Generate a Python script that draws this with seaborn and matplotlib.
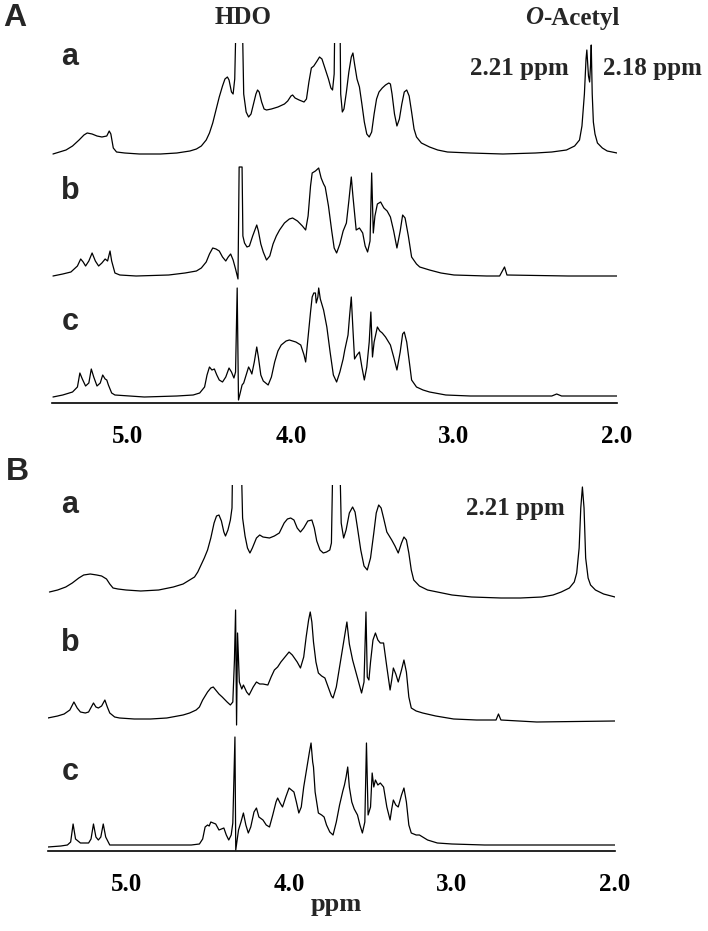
import matplotlib.pyplot as plt
import numpy as np
import pandas as pd
import seaborn as sns

# (ppm, intensity above the trace baseline)
a_sample_a = [(5.46, 0), (5.42, 2), (5.38, 4), (5.34, 8), (5.30, 14), (5.27, 19), (5.25, 21), (5.22, 20),
              (5.19, 18), (5.16, 17), (5.13, 18), (5.115, 23), (5.105, 20), (5.09, 6), (5.07, 2), (5.02, 1),
              (4.93, 0), (4.80, 0), (4.70, 1), (4.62, 3), (4.58, 5), (4.55, 8), (4.52, 14), (4.50, 21),
              (4.48, 31), (4.46, 44), (4.44, 57), (4.42, 68), (4.405, 75), (4.39, 77), (4.38, 74),
              (4.365, 62), (4.355, 60), (4.345, 75), (4.335, 150), (4.30, 150), (4.29, 60), (4.275, 42),
              (4.26, 37), (4.245, 40), (4.23, 50), (4.215, 60), (4.205, 64), (4.195, 62), (4.18, 52),
              (4.165, 45), (4.15, 44), (4.12, 45), (4.08, 47), (4.04, 50), (4.02, 53), (4.00, 58),
              (3.99, 59), (3.975, 56), (3.95, 54), (3.92, 52), (3.905, 55), (3.89, 72), (3.875, 86),
              (3.86, 88), (3.84, 93), (3.825, 97), (3.81, 95), (3.79, 85), (3.77, 75), (3.755, 66),
              (3.745, 64), (3.735, 80), (3.73, 150), (3.70, 150), (3.695, 60), (3.685, 42), (3.675, 45),
              (3.66, 62), (3.645, 82), (3.63, 97), (3.62, 101), (3.61, 90), (3.595, 75), (3.58, 67),
              (3.565, 50), (3.55, 32), (3.535, 20), (3.52, 17), (3.505, 22), (3.49, 40), (3.475, 55),
              (3.46, 62), (3.44, 66), (3.42, 69), (3.40, 71), (3.39, 70), (3.38, 60), (3.365, 40),
              (3.35, 28), (3.335, 35), (3.32, 50), (3.305, 62), (3.29, 64), (3.275, 58), (3.26, 42),
              (3.245, 25), (3.23, 17), (3.20, 11), (3.15, 7), (3.10, 4), (3.04, 2), (2.90, 1), (2.70, 0),
              (2.50, 1), (2.40, 2), (2.31, 4), (2.26, 8), (2.23, 14), (2.215, 28), (2.20, 60),
              (2.19, 95), (2.185, 104), (2.175, 78), (2.168, 72), (2.162, 90), (2.158, 109), (2.152, 60),
              (2.145, 32), (2.135, 20), (2.12, 11), (2.09, 6), (2.06, 3), (2.00, 1)]
a_sample_b = [(5.46, 0), (5.40, 2), (5.35, 4), (5.31, 10), (5.29, 17), (5.275, 14), (5.26, 10), (5.24, 15),
              (5.22, 23), (5.20, 15), (5.18, 10), (5.16, 13), (5.14, 17), (5.125, 15), (5.11, 25),
              (5.10, 15), (5.08, 3), (5.05, 1), (4.95, 0), (4.75, 1), (4.65, 3), (4.58, 5), (4.55, 8),
              (4.52, 14), (4.50, 22), (4.48, 28), (4.46, 27), (4.44, 25), (4.42, 19), (4.40, 15),
              (4.385, 19), (4.37, 22), (4.355, 16), (4.34, 7), (4.325, -3), (4.318, 109), (4.30, 109),
              (4.295, 40), (4.285, 33), (4.27, 29), (4.255, 30), (4.235, 40), (4.21, 51), (4.20, 45),
              (4.185, 32), (4.17, 24), (4.15, 16), (4.13, 20), (4.11, 32), (4.09, 40), (4.07, 46),
              (4.04, 53), (4.01, 57), (3.99, 58), (3.96, 55), (3.93, 50), (3.91, 46), (3.895, 60),
              (3.88, 90), (3.87, 103), (3.85, 105), (3.83, 108), (3.815, 98), (3.80, 92), (3.79, 89),
              (3.77, 70), (3.75, 45), (3.735, 28), (3.72, 23), (3.70, 32), (3.68, 45), (3.66, 53),
              (3.645, 75), (3.63, 99), (3.62, 80), (3.60, 46), (3.58, 48), (3.56, 43), (3.545, 30),
              (3.53, 24), (3.515, 35), (3.505, 103), (3.495, 43), (3.485, 60), (3.47, 72), (3.45, 74),
              (3.43, 68), (3.41, 65), (3.39, 59), (3.37, 45), (3.35, 28), (3.33, 45), (3.315, 61),
              (3.30, 58), (3.28, 40), (3.26, 19), (3.23, 12), (3.21, 9), (3.15, 6), (3.08, 3), (3.00, 1),
              (2.80, 0), (2.72, 0), (2.69, 9), (2.675, 1), (2.30, 0), (2.00, 0)]
a_sample_c = [(5.46, 0), (5.40, 2), (5.34, 5), (5.31, 10), (5.295, 24), (5.28, 18), (5.26, 11), (5.24, 14),
              (5.225, 28), (5.21, 20), (5.19, 11), (5.17, 14), (5.155, 22), (5.14, 18), (5.13, 17),
              (5.12, 12), (5.10, 4), (5.08, 2), (4.90, 0), (4.70, 1), (4.60, 2), (4.56, 4), (4.53, 10),
              (4.515, 22), (4.50, 30), (4.485, 27), (4.47, 28), (4.455, 22), (4.44, 17), (4.42, 15),
              (4.40, 20), (4.38, 29), (4.365, 25), (4.35, 19), (4.34, 25), (4.33, 109), (4.322, -3),
              (4.31, 5), (4.30, 12), (4.29, 14), (4.275, 22), (4.26, 30), (4.25, 27), (4.24, 23),
              (4.225, 35), (4.21, 50), (4.20, 40), (4.185, 22), (4.17, 16), (4.14, 12), (4.12, 20),
              (4.10, 35), (4.08, 46), (4.06, 52), (4.03, 56), (4.01, 57), (3.97, 55), (3.94, 52),
              (3.92, 42), (3.91, 35), (3.895, 60), (3.88, 85), (3.87, 100), (3.86, 104), (3.85, 104),
              (3.845, 94), (3.835, 100), (3.83, 109), (3.82, 98), (3.80, 87), (3.78, 70), (3.76, 45),
              (3.74, 22), (3.72, 15), (3.70, 25), (3.68, 38), (3.67, 47), (3.65, 62), (3.64, 82),
              (3.63, 100), (3.62, 68), (3.61, 38), (3.595, 42), (3.58, 45), (3.565, 30), (3.55, 17),
              (3.535, 30), (3.52, 55), (3.51, 85), (3.50, 40), (3.49, 55), (3.47, 70), (3.455, 66),
              (3.44, 64), (3.42, 60), (3.39, 52), (3.37, 40), (3.35, 27), (3.33, 45), (3.315, 63),
              (3.305, 65), (3.29, 55), (3.27, 30), (3.26, 17), (3.23, 10), (3.19, 7), (3.15, 5),
              (3.05, 2), (2.90, 1), (2.40, 1), (2.37, 3), (2.34, 1), (2.00, 1)]

b_sample_a = [(5.47, 6), (5.42, 8), (5.37, 11), (5.33, 15), (5.29, 20), (5.26, 23), (5.22, 24), (5.18, 23),
              (5.15, 22), (5.12, 19), (5.10, 14), (5.08, 10), (5.05, 9), (5.00, 8), (4.91, 7), (4.80, 8),
              (4.71, 11), (4.65, 14), (4.61, 18), (4.58, 21), (4.56, 26), (4.54, 33), (4.52, 40),
              (4.50, 48), (4.48, 60), (4.46, 75), (4.445, 82), (4.43, 83), (4.415, 77), (4.40, 66),
              (4.39, 62), (4.375, 68), (4.36, 78), (4.35, 90), (4.345, 150), (4.295, 150), (4.285, 80),
              (4.27, 62), (4.255, 50), (4.24, 45), (4.225, 50), (4.20, 60), (4.18, 63), (4.16, 61),
              (4.12, 60), (4.09, 62), (4.06, 65), (4.03, 75), (4.01, 79), (3.99, 80), (3.97, 78),
              (3.95, 70), (3.93, 66), (3.91, 70), (3.885, 77), (3.86, 78), (3.845, 70), (3.83, 57),
              (3.81, 48), (3.79, 45), (3.77, 46), (3.75, 48), (3.74, 55), (3.73, 150), (3.69, 150),
              (3.68, 75), (3.665, 60), (3.65, 68), (3.63, 85), (3.61, 91), (3.595, 86), (3.58, 70),
              (3.56, 48), (3.54, 32), (3.52, 28), (3.50, 40), (3.48, 65), (3.465, 85), (3.45, 93),
              (3.435, 90), (3.42, 80), (3.40, 66), (3.385, 62), (3.37, 58), (3.35, 52), (3.33, 45),
              (3.31, 55), (3.295, 61), (3.28, 58), (3.265, 45), (3.25, 28), (3.235, 18), (3.20, 12),
              (3.15, 8), (3.09, 6), (3.00, 3), (2.88, 1), (2.70, 0), (2.58, 0), (2.45, 1), (2.38, 3),
              (2.33, 6), (2.28, 10), (2.25, 16), (2.235, 25), (2.22, 50), (2.21, 90), (2.20, 111),
              (2.19, 90), (2.18, 40), (2.165, 20), (2.15, 13), (2.12, 8), (2.07, 4), (2.00, 1)]
b_sample_b = [(5.48, 4), (5.42, 6), (5.38, 8), (5.345, 12), (5.32, 20), (5.30, 14), (5.28, 10), (5.25, 9),
              (5.23, 10), (5.21, 16), (5.20, 19), (5.185, 15), (5.17, 14), (5.15, 16), (5.13, 22),
              (5.115, 15), (5.10, 9), (5.07, 5), (5.04, 4), (4.95, 3), (4.85, 3), (4.75, 4), (4.65, 7),
              (4.61, 9), (4.57, 12), (4.55, 15), (4.53, 22), (4.50, 30), (4.48, 34), (4.465, 35),
              (4.45, 32), (4.43, 28), (4.41, 25), (4.38, 20), (4.36, 17), (4.345, 20), (4.335, 62),
              (4.328, 112), (4.322, -3), (4.316, 89), (4.305, 40), (4.29, 33), (4.28, 37), (4.26, 30),
              (4.245, 27), (4.22, 35), (4.20, 40), (4.18, 38), (4.16, 38), (4.13, 37), (4.11, 45),
              (4.09, 52), (4.07, 55), (4.05, 60), (4.02, 66), (4.00, 70), (3.98, 67), (3.95, 60),
              (3.93, 54), (3.91, 65), (3.895, 85), (3.88, 102), (3.87, 110), (3.86, 100), (3.85, 80),
              (3.835, 60), (3.82, 49), (3.80, 46), (3.78, 44), (3.76, 35), (3.74, 26), (3.73, 24),
              (3.71, 35), (3.69, 55), (3.67, 75), (3.66, 85), (3.645, 100), (3.63, 78), (3.61, 62),
              (3.59, 50), (3.57, 38), (3.555, 29), (3.54, 40), (3.528, 110), (3.52, 45), (3.51, 42),
              (3.50, 60), (3.485, 82), (3.47, 89), (3.455, 82), (3.44, 79), (3.42, 79), (3.40, 55),
              (3.38, 32), (3.37, 42), (3.36, 54), (3.345, 48), (3.33, 40), (3.31, 52), (3.295, 62),
              (3.28, 50), (3.265, 25), (3.25, 14), (3.22, 11), (3.18, 9), (3.10, 6), (2.99, 3),
              (2.85, 2), (2.73, 2), (2.715, 8), (2.70, 2), (2.48, 0), (2.00, 1)]
b_sample_c = [(5.48, 0), (5.40, 1), (5.36, 2), (5.34, 5), (5.325, 23), (5.31, 8), (5.28, 4), (5.23, 4),
              (5.215, 8), (5.20, 23), (5.185, 10), (5.17, 7), (5.155, 10), (5.14, 23), (5.125, 10),
              (5.10, 2), (4.80, 2), (4.60, 2), (4.55, 3), (4.53, 8), (4.515, 20), (4.50, 22), (4.49, 21),
              (4.48, 25), (4.465, 24), (4.45, 23), (4.43, 17), (4.415, 18), (4.40, 19), (4.385, 12),
              (4.37, 7), (4.355, 12), (4.345, 24), (4.338, 70), (4.332, 110), (4.327, -3), (4.31, 17),
              (4.295, 25), (4.28, 34), (4.265, 22), (4.25, 14), (4.235, 20), (4.215, 35), (4.20, 39),
              (4.185, 30), (4.16, 27), (4.14, 22), (4.12, 20), (4.10, 32), (4.08, 45), (4.07, 49),
              (4.055, 44), (4.04, 40), (4.02, 50), (4.00, 59), (3.985, 57), (3.97, 55), (3.955, 45),
              (3.94, 34), (3.925, 40), (3.91, 60), (3.89, 80), (3.875, 95), (3.865, 104), (3.855, 85),
              (3.85, 80), (3.84, 55), (3.82, 34), (3.80, 32), (3.785, 30), (3.77, 22), (3.75, 15),
              (3.73, 12), (3.71, 25), (3.69, 42), (3.67, 56), (3.66, 62), (3.65, 70), (3.64, 80),
              (3.63, 60), (3.615, 45), (3.60, 38), (3.58, 32), (3.565, 22), (3.55, 14), (3.535, 25),
              (3.525, 104), (3.515, 32), (3.50, 40), (3.49, 74), (3.48, 60), (3.47, 67), (3.455, 62),
              (3.44, 64), (3.42, 60), (3.40, 40), (3.38, 27), (3.37, 38), (3.36, 47), (3.345, 42),
              (3.33, 40), (3.31, 52), (3.295, 59), (3.28, 45), (3.265, 22), (3.25, 14), (3.22, 12),
              (3.20, 12), (3.17, 9), (3.15, 7), (3.09, 4), (3.00, 3), (2.80, 2), (2.00, 2)]

tick_ppm = [5.0, 4.0, 3.0, 2.0]
tick_labels = ['5.0', '4.0', '3.0', '2.0']
trace_names = ['a', 'b', 'c']

sns.set_style("white")
plt.rcParams['font.family'] = ['Liberation Serif', 'DejaVu Serif']

W, H = 708, 931
fig = plt.figure(figsize=(W / 100, H / 100), dpi=100)


def px_axes(left, right, top, bottom):
    return fig.add_axes([left / W, 1 - bottom / H, (right - left) / W, (bottom - top) / H])


def draw_panel(ax, traces, offsets, xmin, ymax):
    for name, pts, off in zip(trace_names, traces, offsets):
        df = pd.DataFrame(pts, columns=['ppm', 'intensity'])
        df['y'] = df['intensity'] + off
        sns.lineplot(data=df, x='ppm', y='y', ax=ax, color='black', lw=0.9,
                     sort=False, estimator=None)
    ax.set_xlim(xmin, 2.0)
    ax.set_ylim(0, ymax)
    for s in ['left', 'right', 'top']:
        ax.spines[s].set_visible(False)
    ax.spines['bottom'].set_linewidth(1.2)
    ax.spines['bottom'].set_color('black')
    ax.set_yticks([])
    ax.set_xticks(tick_ppm)
    ax.set_xticklabels(tick_labels, fontweight='bold', fontsize=18)
    ax.tick_params(axis='x', direction='out', length=5, width=1.2, pad=11, colors='black')
    ax.set_xlabel('')
    ax.set_ylabel('')


# panel A
axA = px_axes(52, 617, 43, 403)
draw_panel(axA, [a_sample_a, a_sample_b, a_sample_c], [249, 127, 6], 5.466, 360)

# panel B
axB = px_axes(48, 615, 485, 851)
draw_panel(axB, [b_sample_a, b_sample_b, b_sample_c], [253, 129, 4], 5.479, 366)


def ftext(x, y, s, **kw):
    fig.text(x / W, 1 - y / H, s, va='center', **kw)


sans = ['Liberation Sans', 'DejaVu Sans']
ftext(15, 18, 'A', ha='center', fontsize=23, fontweight='bold', family=sans)
ftext(17, 472, 'B', ha='center', fontsize=23, fontweight='bold', family=sans)
for lab, y in zip(trace_names, [57, 191, 322]):
    ftext(70, y, lab, ha='center', fontsize=22, fontweight='bold', family=sans)
for lab, y in zip(trace_names, [505, 643, 772]):
    ftext(70, y, lab, ha='center', fontsize=22, fontweight='bold', family=sans)

ftext(243, 18, 'HDO', ha='center', fontsize=18, fontweight='bold')
ftext(543, 18, 'O', ha='right', fontsize=18, fontweight='bold', style='italic')
ftext(543, 18, '-Acetyl', ha='left', fontsize=18, fontweight='bold')
ftext(519, 68, '2.21 ppm', ha='center', fontsize=18, fontweight='bold')
ftext(652, 68, '2.18 ppm', ha='center', fontsize=18, fontweight='bold')
ftext(515, 508, '2.21 ppm', ha='center', fontsize=18, fontweight='bold')
ftext(336, 905, 'ppm', ha='center', fontsize=19, fontweight='bold')

fig.savefig('out.png', dpi=100)
